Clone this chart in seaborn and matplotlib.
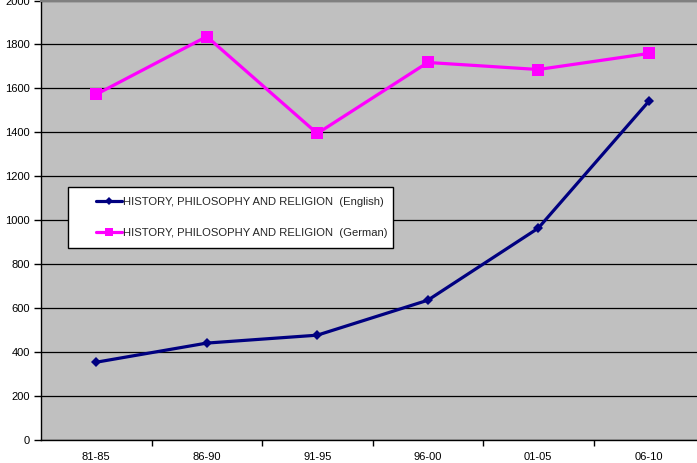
import matplotlib
matplotlib.use("Agg")
import matplotlib.pyplot as plt
import seaborn as sns
import pandas as pd
from matplotlib.patches import Rectangle
from matplotlib.ticker import FixedLocator

periods = ["81-85", "86-90", "91-95", "96-00", "01-05", "06-10"]
english = [354, 441, 477, 636, 964, 1541]
german = [1573, 1836, 1395, 1718, 1686, 1759]
label_en = "HISTORY, PHILOSOPHY AND RELIGION  (English)"
label_de = "HISTORY, PHILOSOPHY AND RELIGION  (German)"

df = pd.DataFrame({
    "period": periods * 2,
    "value": english + german,
    "series": [label_en] * len(periods) + [label_de] * len(periods),
})

sns.set_style("white")
plt.rcParams["font.family"] = ["Liberation Sans", "DejaVu Sans"]

W, H = 697, 463
fig = plt.figure(figsize=(W / 100, H / 100), dpi=100)
ax = fig.add_axes([41 / W, 23 / H, (704 - 41) / W, (440 - 0.5) / H])
ax.set_facecolor("#C0C0C0")

sns.lineplot(data=df, x="period", y="value", hue="series", style="series",
             palette=["#000080", "#FF00FF"], markers=["D", "s"], dashes=False,
             linewidth=2.3, markeredgewidth=0, ax=ax, sort=False)
for line, ms in zip(ax.lines, [5.5, 8]):
    line.set_markersize(ms)

ax.set_xlim(-0.5, len(periods) - 0.5)
ax.set_ylim(0, 2000)
ax.set_yticks(range(0, 2001, 200))
ax.yaxis.grid(True, color="black", linewidth=0.9)
ax.set_axisbelow(True)
ax.set_xlabel("")
ax.set_ylabel("")
for s in ["left", "bottom"]:
    ax.spines[s].set_color("black")
    ax.spines[s].set_linewidth(1.0)
ax.spines["top"].set_color("#808080")
ax.spines["top"].set_linewidth(1.5)
ax.spines["right"].set_visible(False)

ax.tick_params(axis="x", which="major", length=0, labelsize=8, pad=9, labelcolor="black")
ax.xaxis.set_minor_locator(FixedLocator([i + 0.5 for i in range(len(periods) - 1)]))
ax.tick_params(axis="x", which="minor", length=4, width=1, color="black", direction="out", bottom=True)
ax.tick_params(axis="y", length=5, width=1, color="black", direction="out", labelsize=8, pad=3,
               left=True, labelcolor="black")

# legend box
box = Rectangle((68 / W, 1 - 248 / H), (393 - 68) / W, (248 - 187) / H,
                transform=fig.transFigure, facecolor="white",
                edgecolor="black", linewidth=1, zorder=5, clip_on=False)
ax.add_patch(box)
leg = ax.legend(loc="upper left", bbox_to_anchor=(96 / W, 1 - 197 / H),
                bbox_transform=fig.transFigure, frameon=False, fontsize=8.1,
                handlelength=2.35, handletextpad=0.05, labelspacing=1.85,
                borderpad=0, borderaxespad=0)
leg.set_zorder(6)
for h, ms in zip(leg.legend_handles, [4.5, 6]):
    h.set_markersize(ms)

fig.savefig("out.png", dpi=100)
